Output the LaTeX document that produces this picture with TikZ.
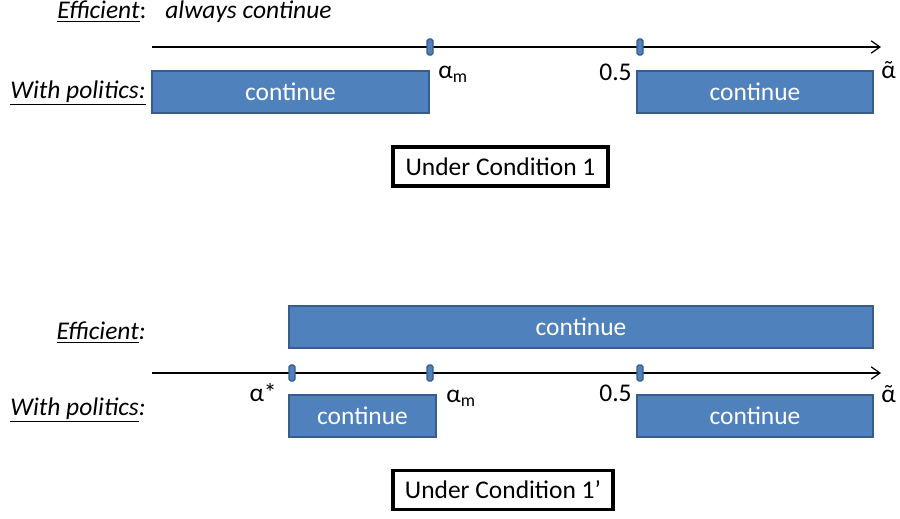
\documentclass[tikz,border=0pt]{standalone}
\usepackage{fontspec}
\setmainfont{Carlito}
\usepackage{xcolor}
\usepackage{tikz}
\usetikzlibrary{arrows.meta}

\definecolor{officeblue}{HTML}{4F81BD}
\definecolor{officeedge}{HTML}{385D8A}

% alpha with a tilde over it
\newcommand{\talpha}{\ooalign{α\cr\hidewidth˜\hidewidth\cr}}

\tikzset{
    every node/.style={font=\fontsize{14.5}{17}\selectfont, inner sep=0pt},
    region/.style={draw=officeedge, line width=1.2pt, fill=officeblue, text=white,
        minimum height=0.84cm},
    tickmark/.style={draw=officeedge, line width=0.8pt, fill=officeblue, rounded corners=1pt,
        minimum width=0.12cm, minimum height=0.32cm},
    condbox/.style={draw=black, line width=1.8pt, minimum height=0.78cm},
    axis/.style={line width=0.7pt, -{Straight Barb[length=5pt,width=7pt]}}
}

\begin{document}
\begin{tikzpicture}[x=0.02cm, y=-0.02cm]
    \useasboundingbox (0,0) rectangle (900,518);

    % Under Condition 1
    \node[anchor=west] (eff1) at (57,12) {\underline{\textit{Efficient}}:};
    \node[anchor=west] (always) at (165,12) {\textit{always continue}};
    \coordinate (start1) at (152,47);
    \coordinate (end1) at (881,47);
    \draw[axis] (start1) -- (end1);
    \foreach \x/\name in {430/am1, 640/half1} {
        \node[tickmark] (\name) at (\x,47) {};
    }
    \node[anchor=west] (lam1) at (438,74) {α\textsubscript{m}};
    \node[anchor=east] (lhalf1) at (632,72) {0.5};
    \node[anchor=west] (ltil1) at (881,72) {\talpha};
    \node[anchor=west] (pol1) at (10,93) {\underline{\textit{With politics:}}};
    \node[region, minimum width=5.54cm] (cont1a) at (290.5,92) {continue};
    \node[region, minimum width=4.72cm] (cont1b) at (755,92) {continue};
    \node[condbox, minimum width=4.3cm] (cond1) at (500.5,166.5) {Under Condition 1};

    % Under Condition 1'
    \node[anchor=east] (eff2) at (146,333) {\underline{\textit{Efficient}}\textit{:}};
    \node[region, minimum width=11.68cm] (effbox) at (581,327) {continue};
    \coordinate (start2) at (152,373);
    \coordinate (end2) at (881,373);
    \draw[axis] (start2) -- (end2);
    \foreach \x/\name in {292/astar, 430/am2, 640/half2} {
        \node[tickmark] (\name) at (\x,373) {};
    }
    \node[anchor=east] (lstar) at (277,393) {α*};
    \node[anchor=west] (lam2) at (446,398) {α\textsubscript{m}};
    \node[anchor=east] (lhalf2) at (632,393) {0.5};
    \node[anchor=west] (ltil2) at (881,396) {\talpha};
    \node[anchor=west] (pol2) at (10,410) {\underline{\textit{With politics}}\textit{:}};
    \node[region, minimum width=2.94cm] (cont2a) at (362.5,416) {continue};
    \node[region, minimum width=4.72cm] (cont2b) at (755,416) {continue};
    \node[condbox, minimum width=4.4cm] (cond2) at (503,490) {Under Condition 1’};
\end{tikzpicture}
\end{document}
